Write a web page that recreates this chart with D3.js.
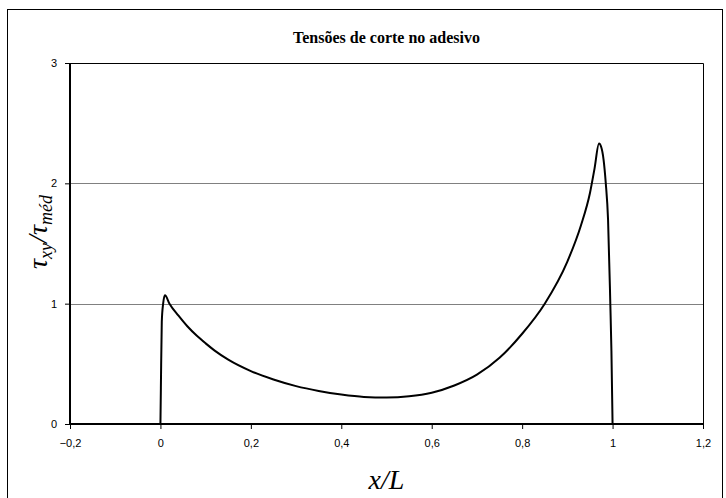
<!DOCTYPE html>
<html>
<head>
<meta charset="utf-8">
<script src="https://cdn.jsdelivr.net/npm/d3@7"></script>
<style>
    body { margin: 0; background: #fff; }
    svg { display: block; }
    .tick text { font-family: "Liberation Sans", Arial, sans-serif; font-size: 11px; fill: #000; }
</style>
</head>
<body>
<div id="chart"></div>
<script>
const dim = {
    width: 726,
    height: 498
}

// data
const xValues = [0, 0.001, 0.003, 0.006, 0.01, 0.02, 0.04, 0.06, 0.08, 0.1, 0.12, 0.15, 0.2, 0.25, 0.3, 0.35, 0.4, 0.45, 0.5, 0.55, 0.6, 0.65, 0.7, 0.75, 0.8, 0.85, 0.9, 0.93, 0.95, 0.96, 0.97, 0.975, 0.98, 0.985, 0.99, 0.995, 0.9975, 1.0]
const yValues = [0, 0.3, 0.85, 1.0, 1.07, 1.0, 0.9, 0.81, 0.735, 0.67, 0.61, 0.535, 0.44, 0.37, 0.315, 0.275, 0.245, 0.225, 0.22, 0.23, 0.26, 0.32, 0.41, 0.55, 0.75, 1.0, 1.35, 1.65, 1.92, 2.12, 2.33, 2.3, 2.2, 2.0, 1.7, 1.0, 0.6, 0]
const xTicks = [-0.2, 0, 0.2, 0.4, 0.6, 0.8, 1, 1.2]
const yTicks = [0, 1, 2, 3]
const title = 'Tensões de corte no adesivo'

const points = xValues.map((x, i) => ({x: x, y: yValues[i]}))

const margin = {left: 70, right: 23, top: 63, bottom: 74}
const plot = {
    x0: margin.left,
    x1: dim.width - margin.right,
    y0: margin.top,
    y1: dim.height - margin.bottom
}

const svg = d3.select('#chart')
    .append('svg')
        .attr('width', dim.width)
        .attr('height', dim.height)

// outer frame
svg.append('rect')
    .attr('x', 7.5)
    .attr('y', 9.5)
    .attr('width', 715)
    .attr('height', 510)
    .attr('fill', 'none')
    .attr('stroke', '#000')
    .attr('stroke-width', 1)

// scales
const xScale = d3.scaleLinear()
    .domain([-0.2, 1.2])
    .range([plot.x0, plot.x1])

const yScale = d3.scaleLinear()
    .domain([0, 3])
    .range([plot.y1, plot.y0])

const fmt = d => d3.format('~g')(d).replace('.', ',')

// gridlines
svg.append('g')
    .selectAll('line')
    .data(yTicks.filter(d => d > 0 && d < 3))
    .join('line')
        .attr('x1', plot.x0)
        .attr('x2', plot.x1)
        .attr('y1', d => Math.round(yScale(d)) + 0.5)
        .attr('y2', d => Math.round(yScale(d)) + 0.5)
        .attr('stroke', '#808080')
        .attr('stroke-width', 1)

// plot area border (top, right)
svg.append('path')
    .attr('d', `M${plot.x0},${plot.y0 + 0.5}H${plot.x1 + 0.5}V${plot.y1}`)
    .attr('fill', 'none')
    .attr('stroke', '#000')
    .attr('stroke-width', 1)

// axes
const xAxis = svg.append('g')
    .attr('transform', `translate(0,${plot.y1})`)
    .call(d3.axisBottom(xScale).tickValues(xTicks).tickFormat(fmt).tickSize(5).tickPadding(10))
xAxis.select('.domain').attr('stroke-width', 2).attr('d', `M${plot.x0},0H${plot.x1}`)

const yAxis = svg.append('g')
    .attr('transform', `translate(${plot.x0},0)`)
    .call(d3.axisLeft(yScale).tickValues(yTicks).tickFormat(fmt).tickSize(5).tickPadding(8))
yAxis.select('.domain').attr('stroke-width', 2).attr('d', `M0,${plot.y0}V${plot.y1}`)

// curve
const line = d3.line()
    .x(d => xScale(d.x))
    .y(d => yScale(d.y))
    .curve(d3.curveMonotoneX)

svg.append('path')
    .datum(points)
    .attr('d', line)
    .attr('fill', 'none')
    .attr('stroke', '#000')
    .attr('stroke-width', 2)
    .attr('stroke-linejoin', 'round')

// title
svg.append('text')
    .attr('x', (plot.x0 + plot.x1) / 2)
    .attr('y', 43)
    .attr('text-anchor', 'middle')
    .attr('font-family', '"Liberation Serif", "Times New Roman", serif')
    .attr('font-weight', 'bold')
    .attr('font-size', 16)
    .text(title)

// x label
svg.append('text')
    .attr('x', (plot.x0 + plot.x1) / 2)
    .attr('y', 489)
    .attr('text-anchor', 'middle')
    .attr('font-family', '"Liberation Serif", "Times New Roman", serif')
    .attr('font-style', 'italic')
    .attr('font-size', 28)
    .text('x/L')

// y label
const yLabel = svg.append('text')
    .attr('transform', `translate(47,232) rotate(-90)`)
    .attr('text-anchor', 'middle')
    .attr('font-family', '"Liberation Serif", "Times New Roman", serif')
    .attr('font-style', 'italic')
    .attr('font-size', 28)
yLabel.append('tspan').text('τ')
yLabel.append('tspan').attr('font-size', 18).attr('dy', 5).text('xy')
yLabel.append('tspan').attr('dy', -5).text('/')
yLabel.append('tspan').text('τ')
yLabel.append('tspan').attr('font-size', 18).attr('dy', 5).text('méd')
</script>
</body>
</html>
